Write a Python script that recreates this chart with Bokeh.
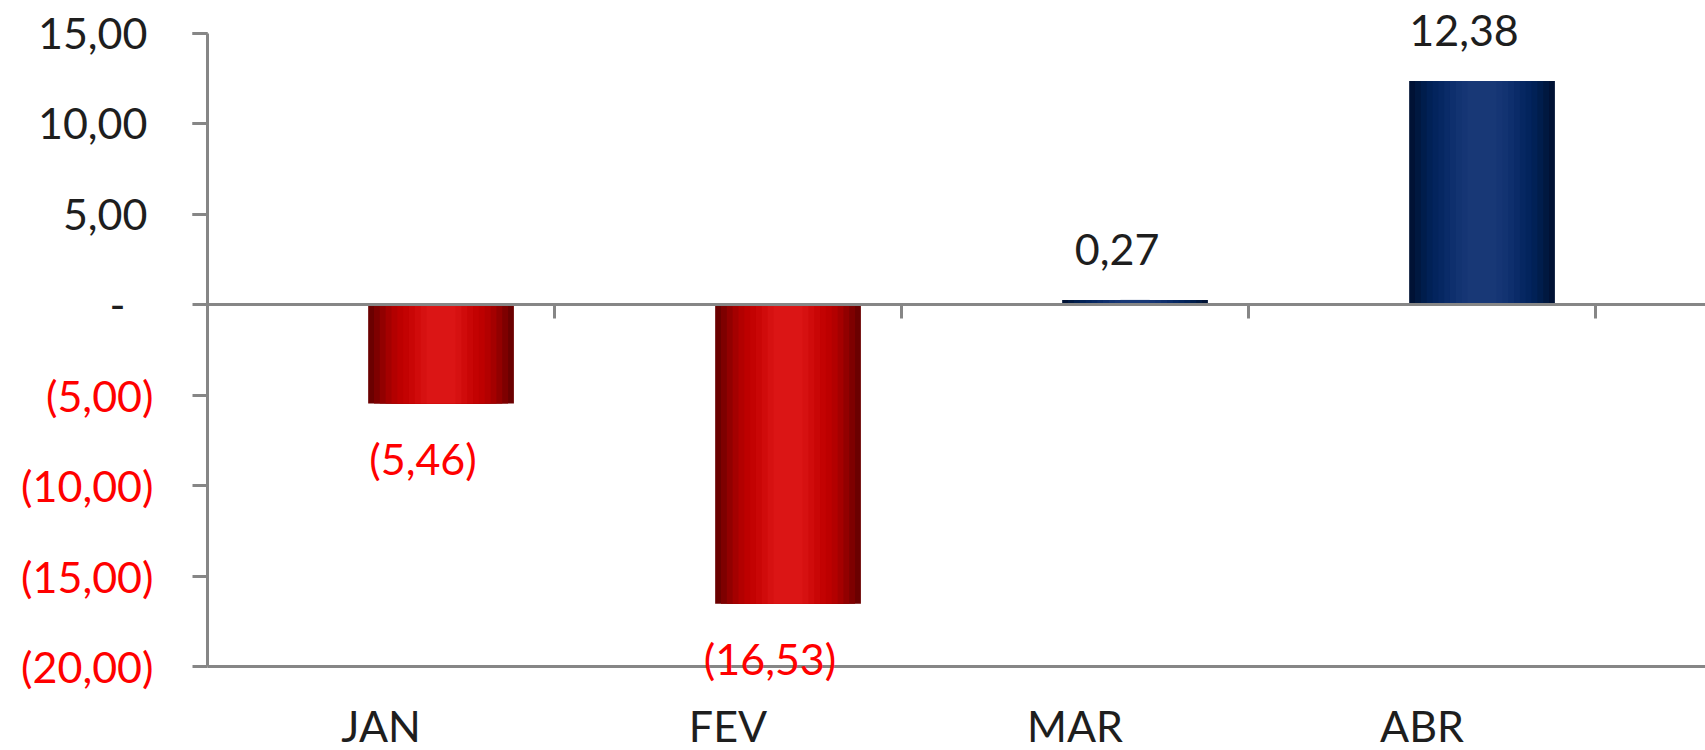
import numpy as np
from bokeh.plotting import figure
from bokeh.models import ColumnDataSource, Range1d, FixedTicker, LinearAxis, LabelSet
from bokeh.core.properties import value
from bokeh.transform import dodge
from bokeh.embed import file_html
from bokeh.resources import INLINE

# ---- data ----
months = ["JAN", "FEV", "MAR", "ABR"]
values = [-5.46, -16.53, 0.27, 12.38]
value_labels = ["(5,46)", "(16,53)", "0,27", "12,38"]
y_ticks = [-20, -15, -10, -5, 0, 5, 10, 15]
y_tick_labels = ["(20,00)", "(15,00)", "(10,00)", "(5,00)", "-", "5,00", "10,00", "15,00"]

# ---- style / layout ----
FONT = "Lato"
FS = "43px"
GRAY = "#868686"
RED = "#ff0000"
BLACK = "#1e1e1e"
W, H = 1705, 750
LEFT_PX, TOP_PX, BOTTOM_PX = 207, 33, 666      # plot area in pixels
CAT_PX = 347                                     # pixels per category
PX_PER_UNIT = (BOTTOM_PX - TOP_PX) / (y_ticks[-1] - y_ticks[0])
X_START = -LEFT_PX / CAT_PX
X_END = (W - LEFT_PX) / CAT_PX
Y_START = y_ticks[0] - (H - BOTTOM_PX) / PX_PER_UNIT
Y_END = y_ticks[-1] + TOP_PX / PX_PER_UNIT
BAR_W = 0.42
BAR_SHIFT = 0.173      # bars sit right of the category centre
red_layers = ["#6b0000", "#7e0000", "#920000", "#a40000", "#b30000", "#bd0000",
              "#c30202", "#c90606", "#d00b0b", "#d61111", "#db1515"]
blue_layers = ["#001235", "#001840", "#001d4c", "#012156", "#03245d", "#062762",
               "#0a2b68", "#0e2f6d", "#123371", "#153574", "#183876"]

p = figure(width=W, height=H, output_backend="svg", toolbar_location=None, tools="",
           x_range=Range1d(X_START, X_END), y_range=Range1d(Y_START, Y_END),
           x_axis_location=None, y_axis_location=None)
p.min_border = 0
p.outline_line_color = None
p.grid.visible = False
p.background_fill_color = "white"
p.border_fill_color = "white"

x_centres = np.arange(len(months)) + 0.5
data = dict(x=x_centres, top=values, label=value_labels,
            tcolor=[RED if v < 0 else BLACK for v in values],
            yoff=[-55 if v < 0 else 50 for v in values])
for k in range(len(red_layers)):
    data[f"c{k}"] = [red_layers[k] if v < 0 else blue_layers[k] for v in values]
src = ColumnDataSource(data)

xb = dodge("x", BAR_SHIFT, range=p.x_range)
for k in range(len(red_layers)):
    frac = 1.0 - k * 0.08
    p.vbar(x=xb, top="top", bottom=0, width=BAR_W * frac, fill_color=f"c{k}",
           line_color=None, source=src)

# data labels
p.add_layout(LabelSet(x=xb, y="top", text="label", source=src, x_offset=-18, y_offset="yoff",
                      text_color="tcolor", text_font=value(FONT), text_font_size=FS,
                      text_align="center", text_baseline="middle"))


def style_axis(ax, color=BLACK):
    ax.minor_tick_out = 0
    ax.minor_tick_in = 0
    ax.major_tick_in = 0
    ax.axis_line_color = GRAY
    ax.axis_line_width = 3
    ax.major_tick_line_color = GRAY
    ax.major_tick_line_width = 3
    ax.minor_tick_line_color = GRAY
    ax.minor_tick_line_width = 3
    ax.major_label_text_font = FONT
    ax.major_label_text_font_size = FS
    ax.major_label_text_color = color


# main y axis: line, ticks at every value (minor), positive labels (major)
pos_ticks = [t for t in y_ticks if t > 0]
ya = LinearAxis(fixed_location=0, bounds=(y_ticks[0], y_ticks[-1]),
                ticker=FixedTicker(ticks=pos_ticks, minor_ticks=y_ticks))
style_axis(ya)
ya.major_tick_out = 15
ya.minor_tick_out = 15
ya.major_label_standoff = 45
ya.major_label_overrides = {t: lab for t, lab in zip(y_ticks, y_tick_labels) if t > 0}
p.add_layout(ya, "left")

# negative tick labels in red
neg_ticks = [t for t in y_ticks if t < 0]
yr = LinearAxis(fixed_location=0, bounds=(y_ticks[0], y_ticks[-1]),
                ticker=FixedTicker(ticks=neg_ticks))
style_axis(yr, RED)
yr.axis_line_color = None
yr.major_tick_line_color = None
yr.major_tick_out = 0
yr.major_label_standoff = 54
yr.major_label_overrides = {t: lab for t, lab in zip(y_ticks, y_tick_labels) if t < 0}
p.add_layout(yr, "left")

# zero tick label "-"
yz = LinearAxis(fixed_location=0, bounds=(y_ticks[0], y_ticks[-1]),
                ticker=FixedTicker(ticks=[0]))
style_axis(yz)
yz.axis_line_color = None
yz.major_tick_line_color = None
yz.major_tick_out = 0
yz.major_label_standoff = 82
yz.major_label_overrides = {t: lab for t, lab in zip(y_ticks, y_tick_labels) if t == 0}
p.add_layout(yz, "left")

# bottom category axis
xa = LinearAxis(fixed_location=y_ticks[0], bounds=(0, X_END),
                ticker=FixedTicker(ticks=list(x_centres)))
style_axis(xa)
xa.major_tick_out = 0
xa.major_tick_line_color = None
xa.major_label_standoff = 33
xa.major_label_overrides = {float(c): m for c, m in zip(x_centres, months)}
p.add_layout(xa, "below")

# zero line with category-boundary ticks (minor ticks only: no labels)
zero_axis = LinearAxis(fixed_location=0, bounds=(0, X_END),
                       ticker=FixedTicker(ticks=[], minor_ticks=list(np.arange(1, len(months) + 1))))
style_axis(zero_axis)
zero_axis.minor_tick_out = 14
p.add_layout(zero_axis, "below")

open("out.html", "w").write(file_html(p, INLINE))
